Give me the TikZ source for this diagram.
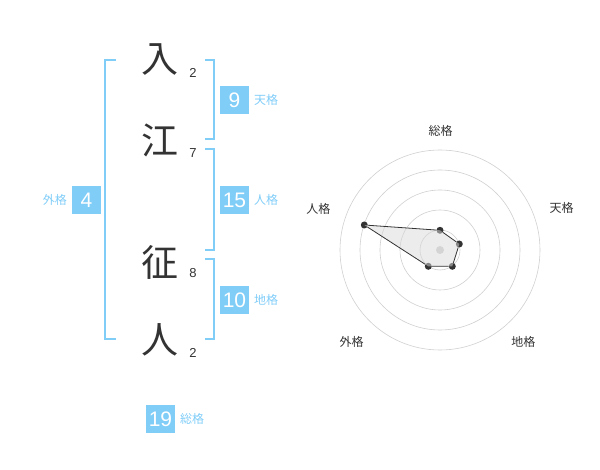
\documentclass[tikz,border=0pt]{standalone}
\usepackage{fontspec}
\setmainfont{Liberation Sans}
\newfontfamily\cjk{Noto Sans CJK JP}
\definecolor{accent}{HTML}{80CDF8}
\definecolor{ink}{HTML}{333333}
\definecolor{ring}{HTML}{D0D0D0}
\begin{document}
\begin{tikzpicture}[x=1pt,y=-1pt,
  kanji/.style={font=\cjk\fontsize{37}{37}\selectfont, text=ink, inner sep=0pt},
  strokes/.style={font=\fontsize{13}{13}\selectfont, text=ink, inner sep=0pt},
  numbox/.style={fill=accent, text=white, minimum width=29pt, minimum height=28pt, inner sep=0pt, font=\fontsize{21}{21}\selectfont},
  kaku/.style={text=accent, font=\cjk\fontsize{12}{12}\selectfont, inner sep=0pt},
  bracket/.style={draw=accent, line width=1.5pt},
  axislabel/.style={text=ink, font=\cjk\fontsize{12}{12}\selectfont, inner sep=0pt},
  ringline/.style={draw=ring, line width=0.6pt},
  dot/.style={circle, fill=ink, inner sep=0pt, minimum size=7pt}]
\useasboundingbox (0,0) rectangle (600,470);
% characters
\node[kanji] (c1) at (160,60) {入};
\node[kanji] (c2) at (160,140) {江};
\node[kanji] (c3) at (160,262) {征};
\node[kanji] (c4) at (160,340) {人};
\node[strokes] (s1) at (193,73) {2};
\node[strokes] (s2) at (193,153) {7};
\node[strokes] (s3) at (193,273) {8};
\node[strokes] (s4) at (193,353) {2};
% brackets
\coordinate (lt) at (116,60); \coordinate (lb) at (116,339);
\draw[bracket] (lt) -- (105,60) -- (105,339) -- (lb);
\coordinate (t1) at (205,60); \coordinate (t2) at (205,139);
\draw[bracket] (t1) -- (214,60) -- (214,139) -- (t2);
\coordinate (j1) at (205,149); \coordinate (j2) at (205,250);
\draw[bracket] (j1) -- (214,149) -- (214,250) -- (j2);
\coordinate (g1) at (205,259); \coordinate (g2) at (205,339);
\draw[bracket] (g1) -- (214,259) -- (214,339) -- (g2);
% boxes
\node[numbox] (b9) at (234.5,100) {9};
\node[kaku, anchor=west] (k9) at (254,100) {天格};
\node[numbox] (b15) at (234.5,200) {15};
\node[kaku, anchor=west] (k15) at (254,200) {人格};
\node[numbox] (b10) at (234.5,300) {10};
\node[kaku, anchor=west] (k10) at (254,300) {地格};
\node[numbox] (b4) at (86.5,200) {4};
\node[kaku, anchor=east] (k4) at (67,200) {外格};
\node[numbox] (b19) at (160.5,419) {19};
\node[kaku, anchor=west] (k19) at (180,419) {総格};
% radar
\coordinate (ctr) at (440,250);
\foreach \r in {20,40,60,80,100} \draw[ringline] (ctr) circle[radius=\r];
\fill[ring] (ctr) circle[radius=4];
\node[dot] (p1) at (440,230.3) {};
\node[dot] (p2) at (459.3,244) {};
\node[dot] (p3) at (452.3,266.3) {};
\node[dot] (p4) at (428.3,266.3) {};
\node[dot] (p5) at (364.3,225) {};
\fill[black!15, opacity=0.5] (p1.center) -- (p2.center) -- (p3.center) -- (p4.center) -- (p5.center) -- cycle;
\draw[ink, line width=0.8pt] (p1) -- (p2) -- (p3) -- (p4) -- (p5) -- (p1);
\node[axislabel] (a1) at (440.7,131) {総格};
\node[axislabel] (a2) at (561.7,208.3) {天格};
\node[axislabel] (a3) at (318.3,209) {人格};
\node[axislabel] (a4) at (351.7,342.3) {外格};
\node[axislabel] (a5) at (523.3,341.7) {地格};
\end{tikzpicture}
\end{document}
